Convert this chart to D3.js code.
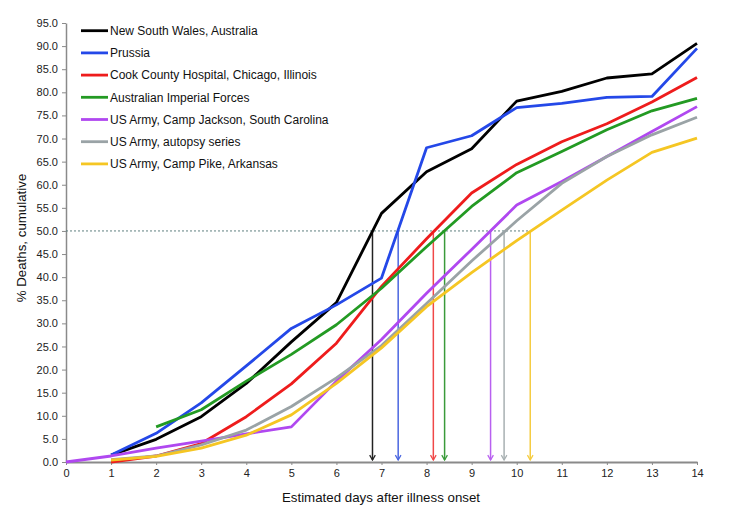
<!DOCTYPE html>
<html><head><meta charset="utf-8">
<script src="https://cdn.jsdelivr.net/npm/d3@7"></script>
<style>
body{margin:0;background:#fff;}
svg{display:block;font-family:"Liberation Sans",Arial,sans-serif;}
</style></head>
<body><svg id="chart" width="740" height="520"></svg>
<script>
const days = [0,1,2,3,4,5,6,7,8,9,10,11,12,13,14];
const seriesNames = ["New South Wales, Australia","Prussia","Cook County Hospital, Chicago, Illinois","Australian Imperial Forces","US Army, Camp Jackson, South Carolina","US Army, autopsy series","US Army, Camp Pike, Arkansas"];
const nsw      = [null,1.5,4.9,9.8,17.0,26.0,34.5,53.8,62.8,67.8,78.1,80.2,83.1,84.0,90.6];
const prussia  = [null,1.5,6.2,12.8,20.8,28.9,34.0,39.8,68.0,70.6,76.7,77.6,78.9,79.1,89.5];
const cook     = [null,0.0,1.3,4.0,9.8,16.9,25.7,38.0,48.3,58.2,64.4,69.3,73.2,77.9,83.2];
const aif      = [null,null,7.6,11.3,17.5,23.3,29.7,37.6,46.6,55.3,62.6,67.2,71.9,76.0,78.7];
const jackson  = [0.0,1.3,3.0,4.5,6.1,7.6,17.5,26.5,36.5,46.0,55.6,60.7,66.1,71.5,76.9];
const autopsy  = [null,0.5,1.3,3.7,6.9,12.0,18.2,25.2,34.3,43.5,52.2,60.3,66.1,70.8,74.6];
const pike     = [null,0.4,1.2,3.0,5.8,10.2,17.0,24.7,33.6,41.0,47.9,54.5,61.0,67.0,70.1];
const medians  = [6.8,7.37,8.15,8.4,9.42,9.72,10.3];
const colors   = ["#000000","#2448e8","#ee1c1c","#239a23","#b048f0","#9aa3a6","#f5c623"];
const arrowColors = ["#222222","#4a66e0","#f04848","#3a9a3a","#b860f0","#a8b0b2","#f5cc40"];
const yTicks = d3.range(0,95.01,5);
const xTicks = days;

const values = [nsw,prussia,cook,aif,jackson,autopsy,pike];
const svg = d3.select("#chart");
const x = d3.scaleLinear().domain([0,14]).range([66,697]);
const y = d3.scaleLinear().domain([0,95]).range([462,23]);
const axisColor = "#8a8a8a";

// y axis
const ya = svg.append("g").attr("transform","translate(66,0)")
  .call(d3.axisLeft(y).tickValues(yTicks).tickFormat(d3.format(".1f")).tickSize(4).tickSizeOuter(0));
ya.select(".domain").attr("stroke",axisColor).attr("stroke-width",1.5);
ya.selectAll(".tick line").attr("stroke",axisColor).attr("stroke-width",1);
ya.selectAll("text").attr("font-size",11).attr("fill","#222").attr("x",-8).attr("font-family","Liberation Sans, Arial, sans-serif");

// x axis
const xa = svg.append("g").attr("transform","translate(0,462)")
  .call(d3.axisBottom(x).tickValues(xTicks).tickFormat(d3.format("d")).tickSize(3).tickSizeOuter(0));
xa.select(".domain").attr("stroke",axisColor).attr("stroke-width",2);
xa.selectAll(".tick line").attr("stroke",axisColor);
xa.selectAll("text").attr("font-size",11).attr("fill","#222").attr("y",7).attr("font-family","Liberation Sans, Arial, sans-serif");

// dashed 50% line
svg.append("line").attr("x1",x(0)).attr("x2",x(d3.max(medians))).attr("y1",y(50)).attr("y2",y(50))
  .attr("stroke","#5f7f7f").attr("stroke-width",1).attr("stroke-dasharray","2,2");

// arrows
const defs = svg.append("defs");
arrowColors.forEach((c,i)=>{
  defs.append("marker").attr("id","ah"+i).attr("viewBox","0 0 10 10").attr("refX",9).attr("refY",5)
    .attr("markerWidth",7).attr("markerHeight",8).attr("markerUnits","userSpaceOnUse").attr("orient","auto")
    .append("path").attr("d","M2,1 L9,5 L2,9").attr("fill","none").attr("stroke",c).attr("stroke-width",1.8);
});
medians.forEach((m,i)=>{
  svg.append("line").attr("x1",x(m)).attr("x2",x(m)).attr("y1",y(50)).attr("y2",y(0)-2)
    .attr("stroke",arrowColors[i]).attr("stroke-width",1.5).attr("marker-end","url(#ah"+i+")");
});

// lines
const line = d3.line().defined(d=>d[1]!==null).x(d=>x(d[0])).y(d=>y(d[1]));
values.forEach((vals,i)=>{
  svg.append("path").datum(days.map((d,j)=>[d,vals[j]]))
    .attr("d",line).attr("fill","none").attr("stroke",colors[i]).attr("stroke-width",2.8).attr("stroke-linejoin","round");
});

// legend
const lg = svg.append("g");
seriesNames.forEach((n,i)=>{
  const yy = 30.7 + i*22.2;
  lg.append("line").attr("x1",81).attr("x2",108).attr("y1",yy).attr("y2",yy).attr("stroke",colors[i]).attr("stroke-width",2.8);
  lg.append("text").attr("x",110).attr("y",yy+4.3).attr("font-size",12).attr("fill","#111").text(n);
});

// axis titles
svg.append("text").attr("x",381).attr("y",502).attr("text-anchor","middle").attr("font-size",13.3).attr("fill","#111").text("Estimated days after illness onset");
svg.append("text").attr("transform","translate(26,238) rotate(-90)").attr("text-anchor","middle").attr("font-size",13.3).attr("fill","#111").text("% Deaths, cumulative");
</script></body></html>
